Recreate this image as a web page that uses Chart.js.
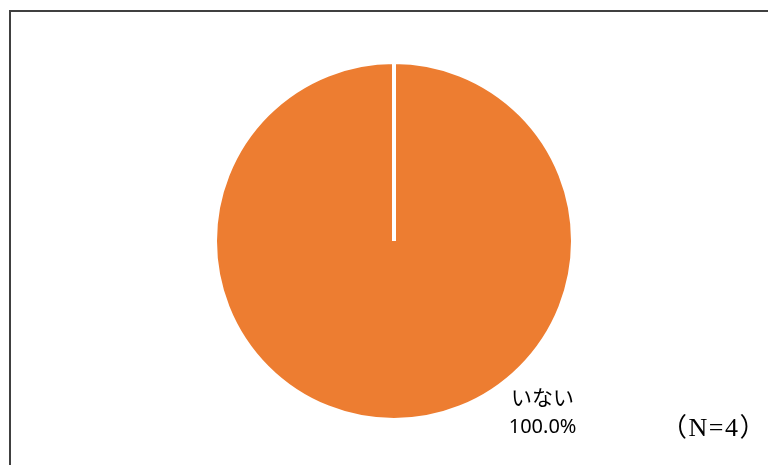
<!DOCTYPE html>
<html>
<head>
<meta charset="utf-8">
<script src="https://cdn.jsdelivr.net/npm/chart.js@4"></script>
<style>
  html, body { margin: 0; padding: 0; background: #fff; }
  #wrap { width: 768px; height: 465px; position: relative; }
</style>
</head>
<body>
<div id="wrap"><canvas id="chart" width="768" height="465"></canvas></div>
<script>
// 回答データ
const categories = ["いる", "いない"];
const counts = [0, 4];
const colors = ["#4472C4", "#ED7D31"];
const totalLabel = "（N=4）";

const total = counts.reduce((a, b) => a + b, 0);

// 外枠
const framePlugin = {
  id: "frame",
  beforeDraw(chart) {
    const ctx = chart.ctx;
    ctx.save();
    ctx.strokeStyle = "#404040";
    ctx.lineWidth = 2;
    ctx.strokeRect(10, 11, chart.width + 20, chart.height + 20);
    ctx.restore();
  }
};

// ラベル（カテゴリ名と割合）と N 表示
const labelPlugin = {
  id: "sliceLabels",
  afterDatasetsDraw(chart) {
    const ctx = chart.ctx;
    const meta = chart.getDatasetMeta(0);
    ctx.save();
    ctx.fillStyle = "#000";
    ctx.textAlign = "center";
    ctx.textBaseline = "middle";
    meta.data.forEach((arc, i) => {
      if (!counts[i]) return;
      const x = arc.x + arc.outerRadius * 0.83;
      const y = arc.y + arc.outerRadius * 0.87;
      const pct = (counts[i] / total * 100).toFixed(1) + "%";
      ctx.font = '21px "Noto Sans CJK JP", "Noto Sans", sans-serif';
      ctx.fillText(categories[i], x, y);
      ctx.font = '20px "Noto Sans", "Noto Sans CJK JP", sans-serif';
      ctx.fillText(pct, x, y + 31);
    });
    ctx.textAlign = "left";
    ctx.letterSpacing = "1.5px";
    ctx.font = '26px "Liberation Serif", "Noto Sans CJK JP", serif';
    ctx.fillText(totalLabel, chart.width - 107, 429);
    ctx.restore();
  }
};

new Chart(document.getElementById("chart"), {
  type: "pie",
  data: {
    labels: categories,
    datasets: [{
      data: counts,
      backgroundColor: colors,
      borderColor: "#ffffff",
      borderWidth: 4
    }]
  },
  options: {
    responsive: false,
    animation: false,
    layout: { padding: { left: 213, right: 193, top: 60, bottom: 43 } },
    plugins: {
      legend: { display: false },
      tooltip: { enabled: false }
    }
  },
  plugins: [framePlugin, labelPlugin]
});
</script>
</body>
</html>
